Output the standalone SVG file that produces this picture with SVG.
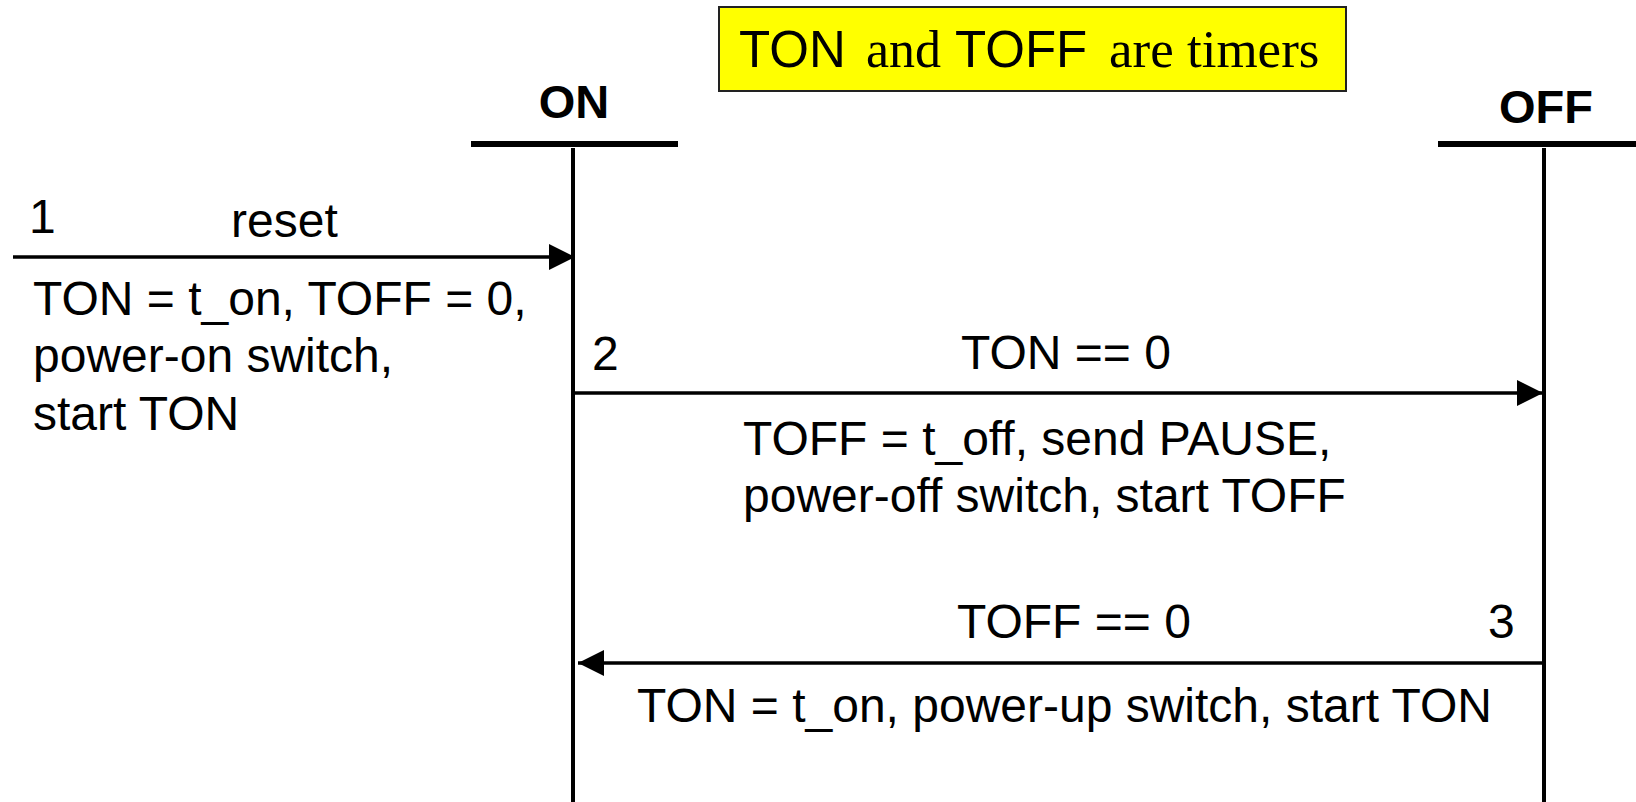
<svg xmlns="http://www.w3.org/2000/svg" width="1636" height="802" viewBox="0 0 1636 802">
  <style>
    .t { font-family: "Liberation Sans", Arial, sans-serif; font-size: 48px; fill: #000; }
    .b { font-family: "Liberation Sans", Arial, sans-serif; font-size: 47px; font-weight: bold; fill: #000; }
    .serif { font-family: "Liberation Serif", "Times New Roman", serif; }
    .bar { stroke: #000; stroke-width: 6; }
    .life { stroke: #000; stroke-width: 4; }
    .conn { stroke: #000; stroke-width: 3.5; fill: none; }
  </style>
  <defs>
    <marker id="ah" markerUnits="userSpaceOnUse" markerWidth="26" markerHeight="26" refX="26" refY="13" orient="auto">
      <polygon points="0,0 26,13 0,26" fill="#000"/>
    </marker>
  </defs>
  <rect width="1636" height="802" fill="#fff"/>

  <g id="note">
    <rect x="719" y="7" width="627" height="84" fill="#ffff00" stroke="#222" stroke-width="2"/>
    <text y="67" class="t" style="font-size:51px"><tspan x="739">TON</tspan><tspan x="866" class="serif" style="font-size:52px">and</tspan><tspan x="955">TOFF</tspan><tspan x="1109" class="serif" style="font-size:53px">are timers</tspan></text>
  </g>

  <g id="state-on">
    <text x="574" y="118" class="b" text-anchor="middle">ON</text>
    <line x1="471" y1="144" x2="678" y2="144" class="bar"/>
    <line x1="573" y1="148" x2="573" y2="802" class="life"/>
  </g>

  <g id="state-off">
    <text x="1546" y="123" class="b" text-anchor="middle">OFF</text>
    <line x1="1438" y1="144" x2="1636" y2="144" class="bar"/>
    <line x1="1544" y1="148" x2="1544" y2="802" class="life"/>
  </g>

  <g id="connectors">
    <line x1="13" y1="257" x2="575" y2="257" class="conn" marker-end="url(#ah)"/>
    <line x1="575" y1="393" x2="1543" y2="393" class="conn" marker-end="url(#ah)"/>
    <line x1="1544" y1="663" x2="578" y2="663" class="conn" marker-end="url(#ah)"/>
  </g>

  <g id="label-1">
    <text x="29" y="233" class="t">1</text>
    <text x="231" y="237" class="t">reset</text>
    <text x="33" y="315" class="t">TON = t_on, TOFF = 0,</text>
    <text x="33" y="372" class="t">power-on switch,</text>
    <text x="33" y="430" class="t">start TON</text>
  </g>

  <g id="label-2">
    <text x="592" y="370" class="t">2</text>
    <text x="961" y="369" class="t">TON == 0</text>
    <text x="743" y="455" class="t">TOFF = t_off, send PAUSE,</text>
    <text x="743" y="512" class="t">power-off switch, start TOFF</text>
  </g>

  <g id="label-3">
    <text x="957" y="638" class="t">TOFF == 0</text>
    <text x="1488" y="638" class="t">3</text>
    <text x="637" y="722" class="t">TON = t_on, power-up switch, start TON</text>
  </g>
</svg>
